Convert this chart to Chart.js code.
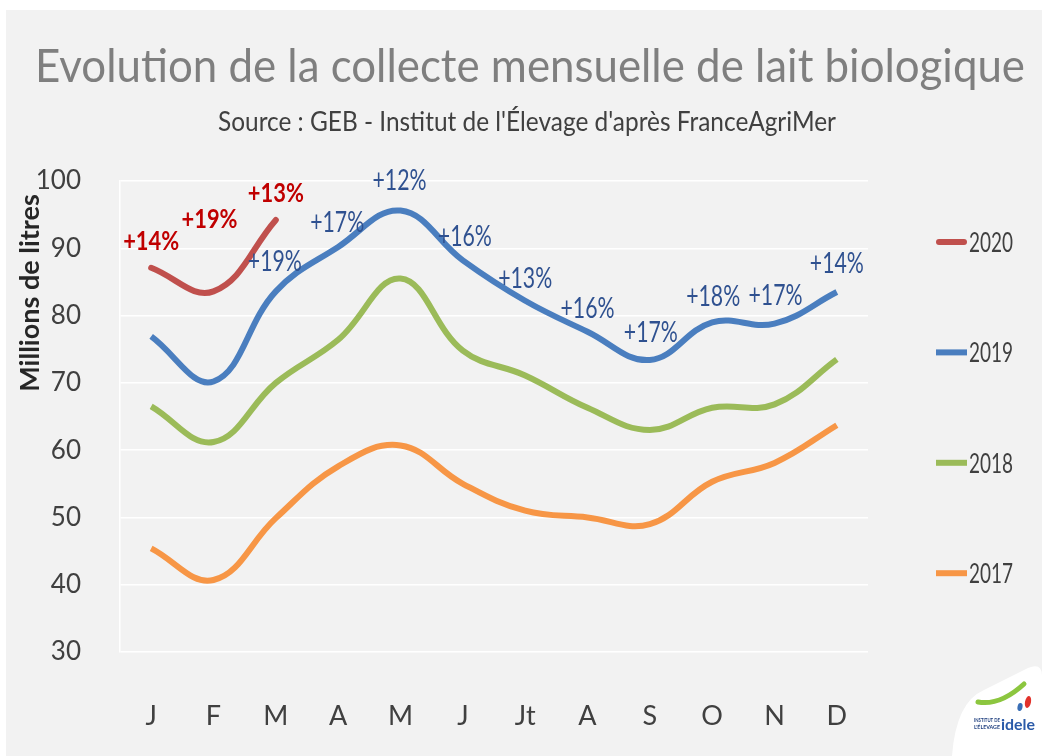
<!DOCTYPE html>
<html>
<head>
<meta charset="utf-8">
<script src="https://cdn.jsdelivr.net/npm/chart.js@4/dist/chart.umd.min.js"></script>
<style>
html, body { margin: 0; padding: 0; background: #fff; }
#panel { position: absolute; left: 6px; top: 10px; width: 1036px; height: 746px; background: #f2f2f2; }
#wrap { position: absolute; left: 0; top: 0; width: 1042px; height: 756px; }
</style>
</head>
<body>
<div id="panel"></div>
<div id="wrap"><canvas id="chart"></canvas></div>
<script>
// Collecte mensuelle de lait bio (millions de litres)
const months = ['J', 'F', 'M', 'A', 'M', 'J', 'Jt', 'A', 'S', 'O', 'N', 'D'];
const years = ['2020', '2019', '2018', '2017'];
const collecte2020 = [87.1, 83.6, 94.2];
const collecte2019 = [76.9, 70.2, 83.6, 90.2, 95.6, 88.2, 82.2, 77.6, 73.4, 79.0, 78.8, 83.5];
const collecte2018 = [66.5, 61.2, 70.0, 76.4, 85.5, 74.8, 71.1, 66.3, 63.0, 66.3, 66.8, 73.5];
const collecte2017 = [45.4, 40.7, 49.9, 57.6, 60.7, 55.0, 51.0, 50.0, 49.0, 55.3, 58.1, 63.7];
const evol2020 = ['+14%', '+19%', '+13%'];
const evol2019 = [null, null, '+19%', '+17%', '+12%', '+16%', '+13%', '+16%', '+17%', '+18%', '+17%', '+14%'];
const yMin = 30, yMax = 100, yStep = 10;

const FONT = 'Lato, "Open Sans", sans-serif';
const colors = ['#c0504d', '#4a7ebf', '#9bbb59', '#f79646'];

const textPlugin = {
    id: 'texts',
    afterDraw(chart) {
        const ctx = chart.ctx;
        ctx.save();

        // titles
        ctx.textAlign = 'center';
        ctx.textBaseline = 'alphabetic';
        ctx.fillStyle = '#7f7f7f';
        ctx.font = '46px ' + FONT;
        ctx.fillText('Evolution de la collecte mensuelle de lait biologique', 530, 82, 990);
        ctx.fillStyle = '#404040';
        ctx.font = '27px ' + FONT;
        ctx.fillText("Source : GEB - Institut de l'Élevage d'après FranceAgriMer", 527, 131, 618);

        // y axis title
        ctx.save();
        ctx.translate(30, 293);
        ctx.rotate(-Math.PI / 2);
        ctx.textBaseline = 'middle';
        ctx.fillStyle = '#262626';
        ctx.font = 'bold 27px ' + FONT;
        ctx.fillText('Millions de litres', 0, 0, 214);
        ctx.restore();

        // legend
        ctx.textAlign = 'left';
        ctx.textBaseline = 'middle';
        ctx.font = '27px ' + FONT;
        chart.data.datasets.forEach((ds, i) => {
            const y = 242 + i * 110.4;
            ctx.strokeStyle = ds.borderColor;
            ctx.lineWidth = 6;
            ctx.lineCap = i === 0 ? 'round' : 'butt';
            ctx.beginPath();
            ctx.moveTo(i === 0 ? 939 : 936, y);
            ctx.lineTo(i === 0 ? 964 : 967, y);
            ctx.stroke();
            ctx.fillStyle = '#404040';
            ctx.fillText(ds.label, 969, y + 1, 44);
        });

        // data labels
        ctx.textAlign = 'center';
        chart.data.datasets.forEach((ds, i) => {
            if (!ds.pctLabels) return;
            const meta = chart.getDatasetMeta(i);
            ctx.fillStyle = ds.pctColor;
            ctx.font = ds.pctFont;
            ds.pctLabels.forEach((txt, j) => {
                if (!txt) return;
                const pt = meta.data[j];
                const shift = (ds.pctShift && ds.pctShift[j]) || [0, 0];
                ctx.fillText(txt, pt.x + shift[0], pt.y - 26 + shift[1], ds.pctWidth);
            });
        });

        // logo
        ctx.fillStyle = '#ffffff';
        ctx.beginPath();
        ctx.moveTo(952, 756);
        ctx.quadraticCurveTo(956, 702, 984, 690);
        ctx.lineTo(1028, 668);
        ctx.quadraticCurveTo(1042, 662, 1042, 676);
        ctx.lineTo(1042, 756);
        ctx.closePath();
        ctx.fill();
        ctx.strokeStyle = '#8cc63f';
        ctx.lineWidth = 5;
        ctx.lineCap = 'round';
        ctx.beginPath();
        ctx.moveTo(978, 702);
        ctx.quadraticCurveTo(1000, 706, 1024, 684);
        ctx.stroke();
        ctx.fillStyle = '#e2322b';
        ctx.beginPath();
        ctx.ellipse(1028, 702, 3, 6, 0.2, 0, Math.PI * 2);
        ctx.fill();
        ctx.fillStyle = '#3a6fb6';
        ctx.beginPath();
        ctx.ellipse(1020, 707, 2.5, 4, 0.2, 0, Math.PI * 2);
        ctx.fill();
        ctx.textAlign = 'left';
        ctx.textBaseline = 'alphabetic';
        ctx.fillStyle = '#1f3f7f';
        ctx.font = 'bold 6px ' + FONT;
        ctx.fillText('INSTITUT DE', 974, 722, 26);
        ctx.fillText("L'ÉLEVAGE", 974, 729, 26);
        ctx.fillStyle = '#2a5aa8';
        ctx.font = 'bold 16px ' + FONT;
        ctx.fillText('idele', 1001, 730, 34);

        ctx.restore();
    }
};

const series = [collecte2020, collecte2019, collecte2018, collecte2017];

new Chart(document.getElementById('chart'), {
    type: 'line',
    data: {
        labels: months,
        datasets: series.map((values, i) => ({
            label: years[i],
            data: values,
            borderColor: colors[i],
            backgroundColor: colors[i],
            borderWidth: 6,
            borderCapStyle: i === 0 ? 'round' : 'butt',
            pointRadius: 0,
            tension: 0.4,
            fill: false
        }))
    },
    options: {
        responsive: true,
        maintainAspectRatio: false,
        animation: false,
        layout: { padding: { top: 181, right: 174, left: 0, bottom: 0 } },
        plugins: {
            legend: { display: false },
            tooltip: { enabled: false }
        },
        scales: {
            x: {
                offset: true,
                grid: { display: false, drawTicks: false },
                border: { display: false },
                ticks: { color: '#404040', font: { family: FONT, size: 27 }, padding: 48 },
                afterFit(scale) { scale.height = 104; }
            },
            y: {
                min: yMin,
                max: yMax,
                grid: { color: '#ffffff', lineWidth: 1.5, drawTicks: false },
                border: { display: true, color: '#ffffff', width: 1.5 },
                ticks: { stepSize: yStep, color: '#404040', font: { family: FONT, size: 26 }, padding: 39 },
                afterFit(scale) { scale.width = 120; }
            }
        }
    },
    plugins: [textPlugin]
});

// per-dataset label styling
const c = Chart.getChart('chart');
c.data.datasets[0].pctLabels = evol2020;
c.data.datasets[0].pctColor = '#c00000';
c.data.datasets[0].pctFont = 'bold 27px ' + FONT;
c.data.datasets[0].pctWidth = 56;
c.data.datasets[0].pctShift = [[0, -1], [-4, -46], [0, -1]];
c.data.datasets[1].pctLabels = evol2019;
c.data.datasets[1].pctColor = '#2f5190';
c.data.datasets[1].pctFont = '28px ' + FONT;
c.data.datasets[1].pctWidth = 54;
c.data.datasets[1].pctShift = [null, null, [-1, -3], [-1, 2], [-1, -4], [2, 3], [0, 4], [0, 3], [1, -1], [1, 1], [1, -2], [0, -2]];
c.update('none');
</script>
</body>
</html>
